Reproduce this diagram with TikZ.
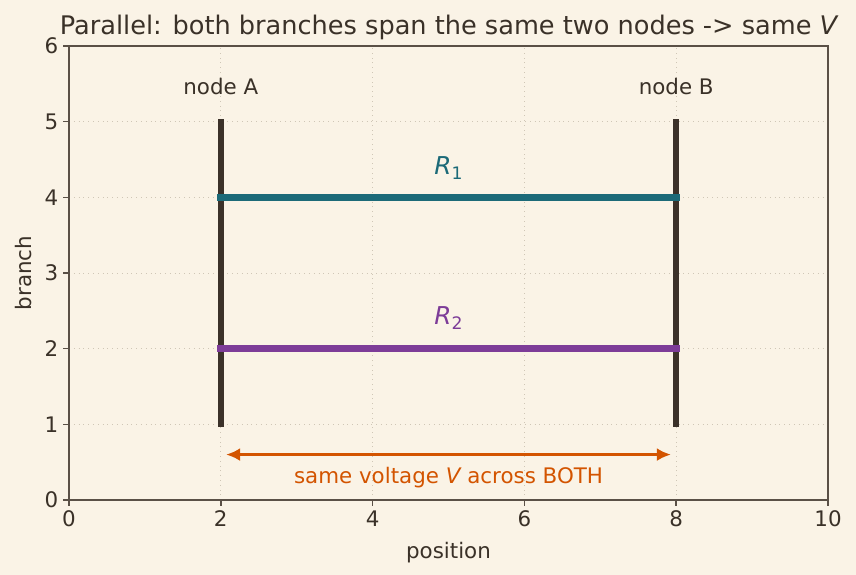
\documentclass[tikz,border=0pt]{standalone}
\usepackage{fontspec}
\setmainfont{DejaVu Sans}
\usetikzlibrary{arrows.meta}

\definecolor{bg}{HTML}{FAF3E6}
\definecolor{ink}{HTML}{3A3128}
\definecolor{spinec}{HTML}{5A5046}
\definecolor{gridc}{HTML}{CFC6B6}
\definecolor{barc}{HTML}{3B3129}
\definecolor{tealc}{HTML}{1C6A78}
\definecolor{purpc}{HTML}{7D3C98}
\definecolor{orangec}{HTML}{D35400}

\newcommand{\lowidx}[1]{\raisebox{-0.35ex}{\fontsize{8.6}{10}\selectfont #1}}

\tikzset{
  gridline/.style={gridc, line width=0.4pt, dotted},
  spine/.style={spinec, line width=0.75pt},
  bar/.style={barc, line width=2.8pt, line cap=rect},
  branchline/.style={line width=3.4pt, line cap=rect},
  tick/.style={font=\fontsize{10.7}{12}\selectfont, text=ink}
}

\begin{document}
\begin{tikzpicture}[x=37.95pt, y=37.83pt, font=\fontsize{10.7}{12}\selectfont, text=ink]
  \useasboundingbox[fill=bg] (-0.909,-0.991) rectangle (10.369,6.608);

  % grid
  \foreach \x in {2,4,6,8} \draw[gridline] (\x,0) -- (\x,6);
  \foreach \y in {1,...,5} \draw[gridline] (0,\y) -- (10,\y);

  % frame and ticks
  \draw[spine] (0,0) rectangle (10,6);
  \foreach \x in {0,2,...,10}
    \draw[spine] (\x,0) -- ++(0,-3pt) node[tick, below, inner sep=2pt] {\x};
  \foreach \y in {0,...,6}
    \draw[spine] (0,\y) -- ++(-3pt,0) node[tick, left, inner sep=2pt] {\y};

  \node (xlab) at (5,-0.70) {position};
  \node[rotate=90] (ylab) at (-0.593,3) {branch};
  \node[font=\fontsize{12.8}{14}\selectfont] (title) at (5,6.25)
    {Parallel: both branches span the same two nodes -> same {\itshape V}};

  % the two nodes
  \coordinate (a1) at (2,1);
  \coordinate (a5) at (2,5);
  \coordinate (b1) at (8,1);
  \coordinate (b5) at (8,5);
  \node (nA) at (2,5.47) {node A};
  \node (nB) at (8,5.47) {node B};
  \draw[bar] (a1) -- (a5);
  \draw[bar] (b1) -- (b5);

  % branches
  \coordinate (r1a) at (2,4);
  \coordinate (r1b) at (8,4);
  \coordinate (r2a) at (2,2);
  \coordinate (r2b) at (8,2);
  \draw[branchline, tealc] (r1a) -- (r1b);
  \draw[branchline, purpc] (r2a) -- (r2b);
  \node[tealc, font=\fontsize{12.3}{14}\selectfont] (r1) at (5,4.39) {{\itshape R}\lowidx{1}};
  \node[purpc, font=\fontsize{12.3}{14}\selectfont] (r2) at (5,2.40) {{\itshape R}\lowidx{2}};

  % voltage arrow
  \coordinate (vl) at (2.07,0.6);
  \coordinate (vr) at (7.93,0.6);
  \draw[orangec, line width=1.6pt, {Latex[length=7pt,width=6.5pt]}-{Latex[length=7pt,width=6.5pt]}] (vl) -- (vr);
  \node[orangec] (vtxt) at (5,0.30) {same voltage {\itshape V} across BOTH};
\end{tikzpicture}
\end{document}
